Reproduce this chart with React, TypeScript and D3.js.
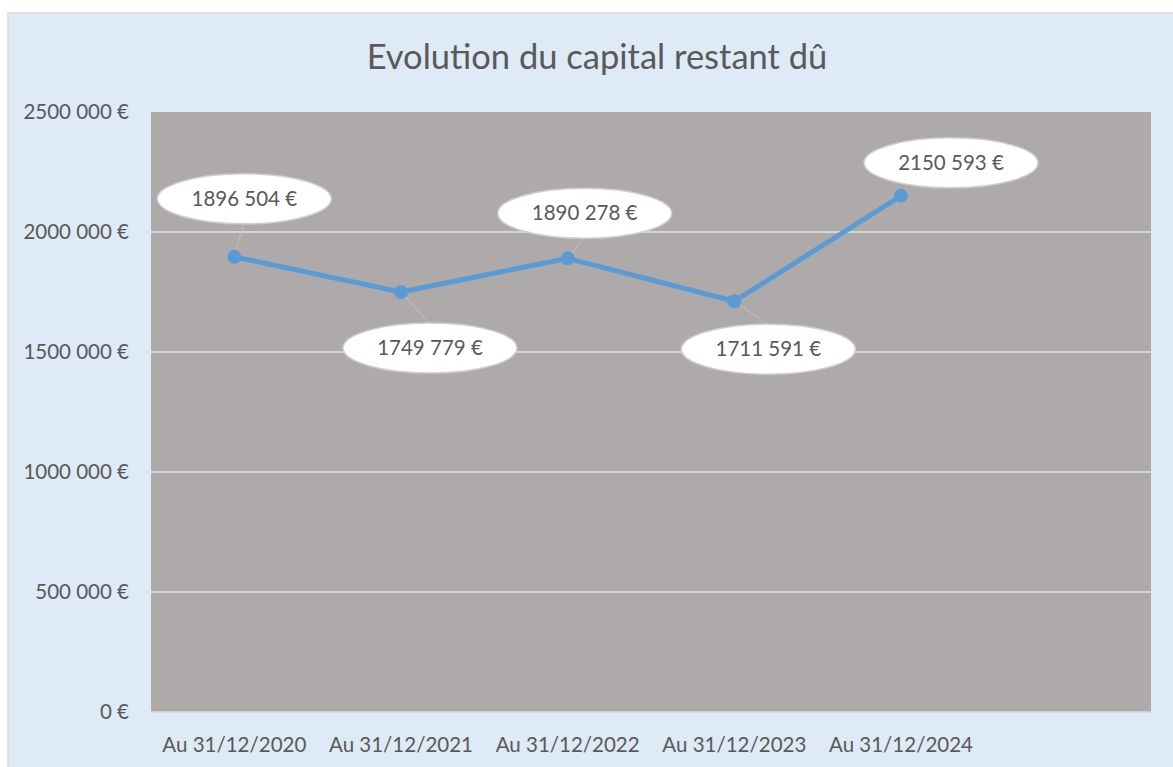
import React from "react";
import * as d3 from "d3";

const categories = ["Au 31/12/2020", "Au 31/12/2021", "Au 31/12/2022", "Au 31/12/2023", "Au 31/12/2024", ""];
const values = [1896504, 1749779, 1890278, 1711591, 2150593];
const yTicks = [0, 500000, 1000000, 1500000, 2000000, 2500000];
const title = "Evolution du capital restant dû";

// label placement offsets (layout, relative to point)
const labelOffsets: [number, number][] = [[10, -58], [29, 56], [17, -45], [34, 48], [50, -33]];

const W = 1173, H = 767;
const plot = { left: 151, right: 1151, top: 112, bottom: 712 };

// Excel format "### ### €": only the last thousands group is separated
function fmt(v: number) {
  if (v === 0) return "0 €";
  const s = String(v);
  if (s.length <= 3) return s + " €";
  return s.slice(0, -3) + " " + s.slice(-3) + " €";
}

export default function App() {
  const x = d3.scaleBand<string>().domain(categories.map((c, i) => c + "#" + i)).range([plot.left, plot.right]).padding(0);
  const y = d3.scaleLinear().domain([0, 2500000]).range([plot.bottom, plot.top]);
  const cx = (i: number) => (x(categories[i] + "#" + i) as number) + x.bandwidth() / 2;
  const line = d3.line<number>().x((_, i) => cx(i)).y((d) => y(d));
  const font = "Lato, 'Open Sans', sans-serif";
  const txt = "#595959";
  return (
    <div style={{ position: "absolute", left: 0, top: 0 }}>
      <svg width={W} height={H} style={{ display: "block" }}>
        <rect x={0} y={0} width={W} height={H} fill="#ffffff" />
        <rect x={8} y={13} width={W + 10} height={H} fill="#deeaf6" stroke="#d9d9d9" strokeWidth={1.5} />
        <text x={597} y={69} textAnchor="middle" fontFamily={font} fontSize={34.5} fill={txt}>{title}</text>
        <rect x={plot.left} y={plot.top} width={plot.right - plot.left} height={plot.bottom - plot.top} fill="#aeaaaa" />
        {yTicks.map((t) => (
          <g key={t}>
            {t > 0 && t < 2500000 && (
              <line x1={plot.left} x2={plot.right} y1={y(t)} y2={y(t)} stroke="#e3e3e3" strokeWidth={1.5} />
            )}
            <text x={129} y={y(t) + 7} textAnchor="end" fontFamily={font} fontSize={20.5} fill={txt}>{fmt(t)}</text>
          </g>
        ))}
        <line x1={plot.left} x2={plot.right} y1={plot.bottom} y2={plot.bottom} stroke="#d9d9d9" strokeWidth={1.5} />
        {categories.map((c, i) => (
          <text key={i} x={cx(i)} y={752} textAnchor="middle" fontFamily={font} fontSize={20.5} fill={txt}>{c}</text>
        ))}
        {values.map((v, i) => {
          const [dx, dy] = labelOffsets[i];
          if (Math.abs(dy) < 40) return null;
          const ex = cx(i) + dx, ey = y(v) + dy;
          const edgeY = ey + (dy < 0 ? 25 : -25);
          return <line key={"l" + i} x1={cx(i)} y1={y(v)} x2={ex - 1} y2={edgeY} stroke="#bfbfbf" strokeWidth={1} />;
        })}
        <path d={line(values) || ""} fill="none" stroke="#5b9bd5" strokeWidth={5} strokeLinejoin="round" />
        {values.map((v, i) => (
          <circle key={"c" + i} cx={cx(i)} cy={y(v)} r={7} fill="#5b9bd5" />
        ))}
        {values.map((v, i) => {
          const [dx, dy] = labelOffsets[i];
          const ex = cx(i) + dx, ey = y(v) + dy;
          return (
            <g key={"b" + i}>
              <ellipse cx={ex} cy={ey} rx={87} ry={25} fill="#ffffff" stroke="#d0cece" strokeWidth={1.5} />
              <text x={ex} y={ey + 7} textAnchor="middle" fontFamily={font} fontSize={20.5} fill={txt}>{fmt(v)}</text>
            </g>
          );
        })}
      </svg>
    </div>
  );
}
